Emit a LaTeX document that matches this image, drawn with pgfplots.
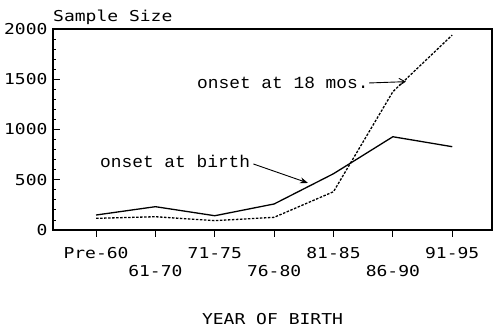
\documentclass[border=0pt]{standalone}
\usepackage{fontspec}
\setmainfont{DejaVu Sans Mono}[FakeStretch=1.2]
\newfontfamily\typefont{Liberation Mono}[FakeStretch=1.05]
\usepackage{pgfplots}
\pgfplotsset{compat=1.18}
\usetikzlibrary{arrows.meta}
\begin{document}
\begin{tikzpicture}[x=1pt,y=1pt]
\path[use as bounding box] (0,0) rectangle (500,331);
\begin{axis}[
  scale only axis,
  at={(53pt,101pt)}, anchor=south west,
  width=439pt, height=201pt,
  xmin=-0.725, xmax=6.67,
  ymin=0, ymax=2000,
  xtick={0,1,2,3,4,5,6},
  xticklabels={Pre-60,61-70,71-75,76-80,81-85,86-90,91-95},
  xticklabel style={yshift={-7pt-mod(\ticknum,2)*18pt}, font=\fontsize{15}{15}\selectfont},
  ytick={0,500,1000,1500,2000},
  yticklabels={0,500,1000,1500,2000},
  yticklabel style={font=\fontsize{15}{15}\selectfont, xshift=-2pt},
  minor y tick num=4,
  x tick style={black, thick},
  y tick style={black, thick},
  xtick pos=bottom, ytick pos=left,
  xtick align=outside, ytick align=inside,
  major tick length=7pt, minor tick length=3pt,
  axis line style={black, line width=1.2pt},
  xlabel={YEAR OF BIRTH},
  xlabel style={font=\fontsize{15}{15}\selectfont, yshift=-30pt},
  clip=false,
]
\addplot[black, line width=1.3pt] coordinates {
  (0,149) (1,232) (2,142) (3,259) (4,560) (5,928) (6,829)};
\addplot[black, line width=1.3pt, dash pattern=on 2.5pt off 1.5pt] coordinates {
  (0,116) (1,132) (2,93) (3,126) (4,381) (5,1376) (6,1940)};
\node[anchor=base west, inner sep=0pt, font=\typefont\fontsize{17}{17}\selectfont] at (axis cs:1.70,1403) {onset at 18 mos.};
\draw[black, line width=0.9pt, -{Straight Barb[length=6pt,width=7pt]}] (axis cs:4.60,1463) -- (axis cs:5.22,1476);
\node[anchor=base west, inner sep=0pt, font=\typefont\fontsize{17}{17}\selectfont] at (axis cs:0.067,617) {onset at birth};
\draw[black, line width=0.9pt, -{Stealth[length=8pt,width=6pt]}] (axis cs:2.65,657) -- (axis cs:3.57,468);
\node[anchor=south west, inner sep=0pt, font=\fontsize{15}{15}\selectfont] at (axis cs:-0.725,2045) {Sample Size};
\end{axis}
\end{tikzpicture}
\end{document}
